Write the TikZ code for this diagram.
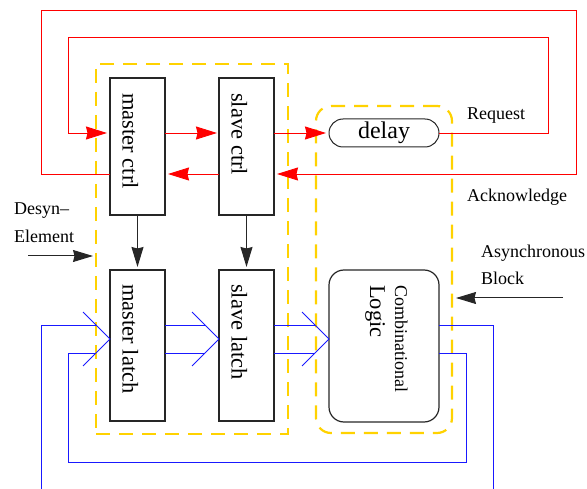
\documentclass[tikz,border=0pt]{standalone}
\usepackage{fontspec}
\setmainfont{Liberation Serif}
\usetikzlibrary{arrows.meta}
\definecolor{sigred}{RGB}{255,0,0}
\definecolor{datablue}{RGB}{25,25,255}
\definecolor{groupgold}{RGB}{255,210,0}
\begin{document}
\begin{tikzpicture}[x=1pt,y=-1pt,
  blk/.style={draw=black!85, line width=1.2pt, minimum width=55pt, inner sep=0pt, outer sep=0pt},
  ctrlbox/.style={blk, minimum height=137pt},
  latchbox/.style={blk, minimum height=151pt},
  boxtext/.style={rotate=-90, anchor=base west, inner sep=0pt, font=\fontsize{22.5}{24}\selectfont},
  lbl/.style={anchor=base west, inner sep=0pt, font=\fontsize{18}{20}\selectfont},
  req/.style={draw=sigred, line width=0.9pt},
  reqarr/.style={req, -{Stealth[length=21pt,width=13pt,inset=1.5pt]}},
  ctlarr/.style={draw=black!85, line width=1pt, -{Stealth[length=20pt,width=12pt,inset=1.5pt]}},
  bus/.style={draw=datablue, line width=0.95pt},
  group/.style={draw=groupgold, line width=2.2pt, dash pattern=on 14pt off 9pt, inner sep=0pt, outer sep=0pt},
]
\useasboundingbox (0,0) rectangle (587,489);

% dashed groupings: the Desyn element and the asynchronous block
\node[group, minimum width=192pt, minimum height=370pt] (desyn) at (192,249) {};
\node[group, rounded corners=15pt, minimum width=136pt, minimum height=327pt] (async) at (384,269.5) {};

% control and latch boxes
\node[ctrlbox] (mc) at (137.5,146.5) {};
\node[ctrlbox] (sc) at (246.5,146.5) {};
\node[latchbox] (ml) at (137.5,345.5) {};
\node[latchbox] (sl) at (246.5,345.5) {};
\node[boxtext] at ([xshift=-15pt,yshift=-15pt]mc.north) {master ctrl};
\node[boxtext] at ([xshift=-15pt,yshift=-15pt]sc.north) {slave ctrl};
\node[boxtext] at ([xshift=-15pt,yshift=-14pt]ml.north) {master latch};
\node[boxtext] at ([xshift=-15pt,yshift=-14pt]sl.north) {slave latch};

% delay element and combinational logic
\node[draw=black!85, line width=1pt, rounded corners=14pt, minimum width=110pt, minimum height=28pt,
      inner sep=0pt, outer sep=0pt, font=\fontsize{24}{26}\selectfont] (delay) at (384,133) {delay};
\node[blk, rounded corners=15pt, minimum width=110pt, minimum height=152pt] (cl) at (384,346) {};
\node[rotate=-90, anchor=base west, inner sep=0pt, font=\fontsize{18}{20}\selectfont]
  at ([xshift=11pt,yshift=-15pt]cl.north) {Combinational};
\node[rotate=-90, anchor=base west, inner sep=0pt, font=\fontsize{22.5}{24}\selectfont]
  at ([xshift=-14pt,yshift=-15pt]cl.north) {Logic};

% helper coordinates for wire routing
\coordinate (ackR) at (576,174);
\coordinate (ackTL) at (41,10);
\coordinate (reqTR) at (548,37);
\coordinate (reqTL) at (68,37);
\coordinate (busrow) at (0,339);
\coordinate (busA) at (0,325);
\coordinate (busB) at (0,353);
\coordinate (inL) at (41,489);
\coordinate (fbL) at (68,462);
\coordinate (fbR) at (466,353);
\coordinate (outR) at (493,489);
\coordinate (desynTail) at (28,256);
\coordinate (asyncTail) at (563,298);

% request path
\draw[reqarr] (mc.east |- delay) -- ([xshift=-2pt]sc.west |- delay);
\draw[reqarr] (sc.east |- delay) -- ([xshift=-3pt]delay.west);
\draw[reqarr] (delay.east) -| (reqTR) -- (reqTL) |- ([xshift=-3pt]mc.west |- delay);

% acknowledge path
\draw[reqarr] (mc.west |- ackR) -| (ackTL) -| (ackR) -- ([xshift=3pt]sc.east |- ackR);
\draw[reqarr] (sc.west |- ackR) -- ([xshift=3pt]mc.east |- ackR);

% enable arrows from control to latches
\draw[ctlarr] (mc.south) -- ([yshift=3pt]ml.north);
\draw[ctlarr] (sc.south) -- ([yshift=3pt]sl.north);

% pointers to the groupings
\draw[ctlarr] (desynTail) -- ([xshift=-3pt]desyn.west |- desynTail);
\draw[ctlarr] (asyncTail) -- ([xshift=4pt]async.east |- asyncTail);

% data bus chevrons
\foreach \n in {ml,sl,cl}
  \draw[bus] (\n.west |- busrow) ++(-27,-27) -- ++(27,27) -- ++(-27,27);

% data bus wires
\draw[bus] (inL) |- ([xshift=-14pt]ml.west |- busA);
\draw[bus] ([xshift=-14pt]ml.west |- busB) -| (fbL) -| (fbR) -- (cl.east |- busB);
\draw[bus] (ml.east |- busA) -- ([xshift=-14pt]sl.west |- busA);
\draw[bus] (ml.east |- busB) -- ([xshift=-14pt]sl.west |- busB);
\draw[bus] (sl.east |- busA) -- ([xshift=-14pt]cl.west |- busA);
\draw[bus] (sl.east |- busB) -- ([xshift=-14pt]cl.west |- busB);
\draw[bus] (cl.east |- busA) -| (outR);

% labels
\node[lbl] at (467,120) {Request};
\node[lbl] at (467,202) {Acknowledge};
\node[lbl] at (14,215) {Desyn–};
\node[lbl] at (14,243) {Element};
\node[lbl] at (481,258) {Asynchronous};
\node[lbl] at (481,285) {Block};
\end{tikzpicture}
\end{document}
